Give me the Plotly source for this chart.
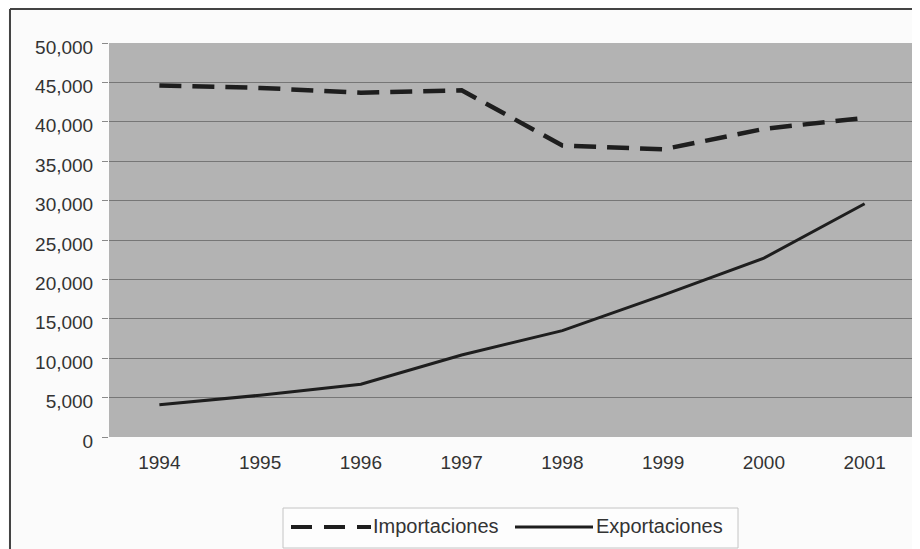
import plotly.graph_objects as go

years = ["1994", "1995", "1996", "1997", "1998", "1999", "2000", "2001"]
importaciones = [44600, 44300, 43700, 44000, 37000, 36500, 39100, 40500]
exportaciones = [4100, 5300, 6700, 10400, 13500, 18000, 22700, 29600]
y_ticks = [0, 5000, 10000, 15000, 20000, 25000, 30000, 35000, 40000, 45000, 50000]
y_labels = ["0", "5,000", "10,000", "15,000", "20,000", "25,000", "30,000", "35,000", "40,000", "45,000", "50,000"]
series_names = ["Importaciones", "Exportaciones"]

W, H = 920, 549
OFF = 8  # page body margin offset
# desired plot area in page pixels: x 109..915, y 43..437
L = 109 - OFF
T = 43 - OFF
R = W - (915 - OFF)
B = H - (437 - OFF)
pw, ph = W - L - R, H - T - B

def px(x):
    return (x - OFF - L) / pw

def py(y):
    return (H - B - (y - OFF)) / ph

DASH = "22px,11px"
INK = "#1e1e1e"
TXT = "#333333"

fig = go.Figure()
fig.add_trace(go.Scatter(x=years, y=importaciones, mode="lines", name=series_names[0],
                         line=dict(color=INK, width=4.5, dash=DASH)))
fig.add_trace(go.Scatter(x=years, y=exportaciones, mode="lines", name=series_names[1],
                         line=dict(color=INK, width=3)))

leg_y = 527
shapes = [
    # outer chart border (left, top)
    dict(type="line", xref="paper", yref="paper", x0=px(10), x1=px(10), y0=py(9), y1=py(560),
         line=dict(color="#444444", width=2)),
    dict(type="line", xref="paper", yref="paper", x0=px(10), x1=px(930), y0=py(9), y1=py(9),
         line=dict(color="#444444", width=2)),
    # legend box
    dict(type="rect", xref="paper", yref="paper", x0=px(283), x1=px(738), y0=py(508), y1=py(548),
         line=dict(color="#c4c4c4", width=1), fillcolor="#fdfdfd"),
    # legend symbols
    dict(type="line", xref="paper", yref="paper", x0=px(291), x1=px(371), y0=py(leg_y), y1=py(leg_y),
         line=dict(color=INK, width=4, dash="21px,12px")),
    dict(type="line", xref="paper", yref="paper", x0=px(515), x1=px(593), y0=py(leg_y), y1=py(leg_y),
         line=dict(color=INK, width=3)),
]
annotations = [
    dict(text=series_names[0], xref="paper", yref="paper", x=px(371), y=py(leg_y - 1),
         xanchor="left", yanchor="middle", showarrow=False, font=dict(size=20, color=TXT)),
    dict(text=series_names[1], xref="paper", yref="paper", x=px(594), y=py(leg_y - 1),
         xanchor="left", yanchor="middle", showarrow=False, font=dict(size=20, color=TXT)),
]

fig.update_layout(
    width=W, height=H,
    margin=dict(l=L, r=R, t=T, b=B),
    paper_bgcolor="#fbfbfb",
    plot_bgcolor="#b3b3b3",
    font=dict(family="Liberation Sans, Arial, sans-serif", size=19, color=TXT),
    showlegend=False,
    xaxis=dict(type="category", range=[-0.5, 7.5], showgrid=False, zeroline=False,
               ticks="", showline=False, automargin=False, ticklabelstandoff=12),
    yaxis=dict(range=[0, 50000], tickvals=y_ticks, ticktext=y_labels,
               showgrid=True, gridcolor="#767676", gridwidth=1, zeroline=False,
               ticks="outside", ticklen=6, tickcolor="#8a8a8a", showline=False,
               automargin=False, ticklabelstandoff=5, ticklabelshift=4),
    shapes=shapes,
    annotations=annotations,
)

fig.write_html("out.html")
